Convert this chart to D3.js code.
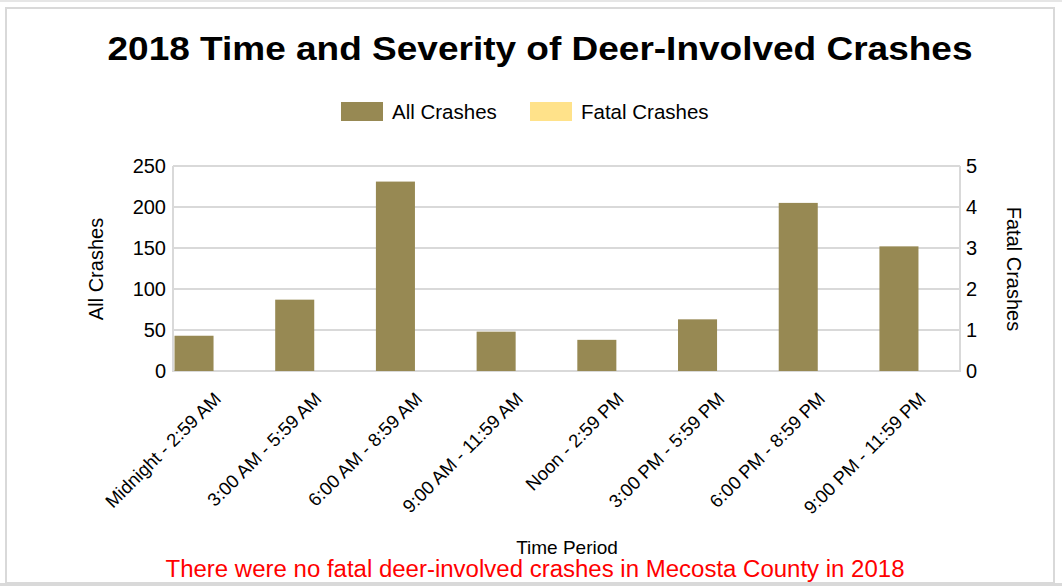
<!DOCTYPE html>
<html>
<head>
<meta charset="utf-8">
<script src="https://cdn.jsdelivr.net/npm/d3@7"></script>
<style>
  body { margin: 0; background: #fff; }
  svg text { font-family: "Liberation Sans", Arial, sans-serif; fill: #000; }
</style>
</head>
<body>
<div id="chart"></div>
<script>
var periods = ["Midnight - 2:59 AM", "3:00 AM - 5:59 AM", "6:00 AM - 8:59 AM", "9:00 AM - 11:59 AM",
               "Noon - 2:59 PM", "3:00 PM - 5:59 PM", "6:00 PM - 8:59 PM", "9:00 PM - 11:59 PM"];
var allCrashes = [43, 87, 231, 48, 38, 63, 205, 152];
var fatalCrashes = [0, 0, 0, 0, 0, 0, 0, 0];
var leftTicks = [0, 50, 100, 150, 200, 250];
var rightTicks = [0, 1, 2, 3, 4, 5];
var seriesNames = ["All Crashes", "Fatal Crashes"];
var colors = ["#978953", "#ffe28a"];

var W = 1062, H = 586;
var plot = {left: 173, right: 960, top: 166, bottom: 371};

var svg = d3.select("#chart").append("svg")
    .attr("width", W)
    .attr("height", H);

// outer frame
svg.append("rect").attr("x", 0).attr("y", 0).attr("width", W).attr("height", 2).attr("fill", "#e6e6e6");
svg.append("rect")
    .attr("x", 6).attr("y", 8).attr("width", 1048).attr("height", 575)
    .attr("fill", "none").attr("stroke", "#d9d9d9").attr("stroke-width", 2);
svg.append("rect").attr("x", 0).attr("y", 583).attr("width", W).attr("height", 3).attr("fill", "#d9d9d9");

var x = d3.scaleBand().domain(periods).range([plot.left, plot.right])
    .paddingInner(0.185).paddingOuter(0);
var xs = d3.scaleBand().domain(seriesNames).range([0, x.bandwidth()]);
var yL = d3.scaleLinear().domain([0, 250]).range([plot.bottom, plot.top]);
var yR = d3.scaleLinear().domain([0, 5]).range([plot.bottom, plot.top]);

// grid
svg.append("g").selectAll("line").data(leftTicks).enter().append("line")
    .attr("x1", plot.left).attr("x2", plot.right)
    .attr("y1", function(d) { return yL(d); }).attr("y2", function(d) { return yL(d); })
    .attr("stroke", "#d9d9d9").attr("stroke-width", 2);
svg.append("line").attr("x1", plot.left).attr("x2", plot.left)
    .attr("y1", plot.top).attr("y2", plot.bottom + 1)
    .attr("stroke", "#d9d9d9").attr("stroke-width", 2);
svg.append("line").attr("x1", plot.right).attr("x2", plot.right)
    .attr("y1", plot.top).attr("y2", plot.bottom + 1)
    .attr("stroke", "#d9d9d9").attr("stroke-width", 2);

// bars
var groups = svg.append("g").selectAll("g.group")
    .data(periods).enter().append("g")
    .attr("class", "group")
    .attr("transform", function(d) { return "translate(" + x(d) + ",0)"; });

groups.append("rect")
    .attr("x", xs("All Crashes") + 1.5)
    .attr("width", xs.bandwidth() - 2)
    .attr("y", function(d, i) { return yL(allCrashes[i]); })
    .attr("height", function(d, i) { return plot.bottom - yL(allCrashes[i]); })
    .attr("fill", colors[0]);

groups.append("rect")
    .attr("x", xs("Fatal Crashes"))
    .attr("width", xs.bandwidth() - 2)
    .attr("y", function(d, i) { return yR(fatalCrashes[i]); })
    .attr("height", function(d, i) { return plot.bottom - yR(fatalCrashes[i]); })
    .attr("fill", colors[1]);

// left axis
var leftAxis = svg.append("g")
    .attr("transform", "translate(" + plot.left + ",0)")
    .call(d3.axisLeft(yL).tickValues(leftTicks).tickSize(0).tickPadding(7));
leftAxis.select(".domain").remove();
leftAxis.selectAll("text").style("font-size", "20px").attr("fill", "#000");

var rightAxis = svg.append("g")
    .attr("transform", "translate(" + plot.right + ",0)")
    .call(d3.axisRight(yR).tickValues(rightTicks).tickFormat(d3.format("d")).tickSize(0).tickPadding(6));
rightAxis.select(".domain").remove();
rightAxis.selectAll("text").style("font-size", "20px").attr("fill", "#000");

// x axis
var xAxis = svg.append("g")
    .attr("transform", "translate(0," + plot.bottom + ")")
    .call(d3.axisBottom(x).tickSize(0).tickPadding(0));
xAxis.select(".domain").remove();
xAxis.selectAll("text")
    .style("font-size", "18.5px")
    .attr("fill", "#000")
    .attr("text-anchor", "end")
    .attr("dy", 0)
    .attr("y", 0)
    .attr("transform", "translate(8,29) rotate(-45)");

// titles
svg.append("text").attr("x", 540).attr("y", 60)
    .attr("text-anchor", "middle")
    .attr("textLength", 865).attr("lengthAdjust", "spacingAndGlyphs")
    .style("font-size", "33px").style("font-weight", "bold")
    .text("2018 Time and Severity of Deer-Involved Crashes");

svg.append("text")
    .attr("transform", "translate(103,269) rotate(-90)")
    .attr("text-anchor", "middle")
    .style("font-size", "20px")
    .text("All Crashes");

svg.append("text")
    .attr("transform", "translate(1007,269) rotate(90)")
    .attr("text-anchor", "middle")
    .style("font-size", "20px")
    .text("Fatal Crashes");

svg.append("text").attr("x", 567).attr("y", 554)
    .attr("text-anchor", "middle")
    .style("font-size", "19px")
    .text("Time Period");

svg.append("text").attr("x", 535).attr("y", 577)
    .attr("text-anchor", "middle")
    .attr("textLength", 739).attr("lengthAdjust", "spacingAndGlyphs")
    .style("font-size", "23px")
    .style("fill", "#ff0000")
    .text("There were no fatal deer-involved crashes in Mecosta County in 2018");

// legend
var legendX = [341, 530];
var legend = svg.append("g").selectAll("g").data(seriesNames).enter().append("g")
    .attr("transform", function(d, i) { return "translate(" + legendX[i] + ",102)"; });
legend.append("rect").attr("width", 42).attr("height", 19)
    .attr("fill", function(d, i) { return colors[i]; });
legend.append("text").attr("x", 51).attr("y", 17)
    .style("font-size", "20.5px")
    .text(function(d) { return d; });
</script>
</body>
</html>
